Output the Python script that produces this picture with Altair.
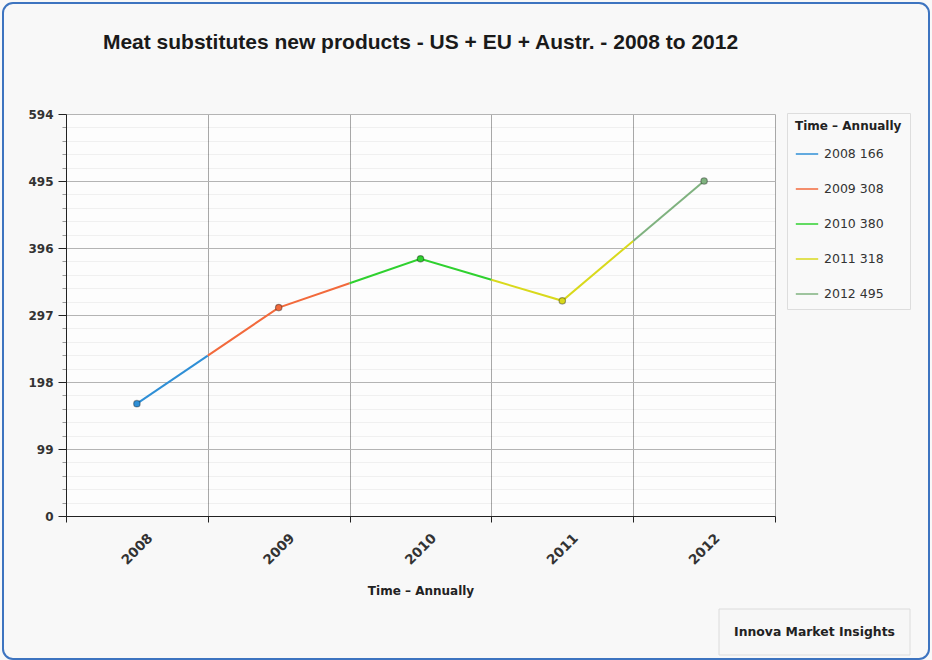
import altair as alt
import pandas as pd

# Annual counts of new meat-substitute products
years = ["2008", "2009", "2010", "2011", "2012"]
values = [166, 308, 380, 318, 495]
colors = ["#2f8fd6", "#f26a3c", "#2fd12f", "#d9d91c", "#7fb27f"]
y_ticks = [0, 99, 198, 297, 396, 495, 594]

keys = [f"{y} {v}" for y, v in zip(years, values)]
n = len(years)

# Each year owns the half-segments reaching towards its neighbours
seg_rows = []
for i in range(n):
    if i > 0:
        seg_rows.append({"key": keys[i], "pos": i - 0.5, "val": (values[i - 1] + values[i]) / 2})
    seg_rows.append({"key": keys[i], "pos": i, "val": values[i]})
    if i < n - 1:
        seg_rows.append({"key": keys[i], "pos": i + 0.5, "val": (values[i] + values[i + 1]) / 2})
segments = pd.DataFrame(seg_rows)
points = pd.DataFrame({"key": keys, "pos": list(range(n)), "val": values})

boundaries = [i - 0.5 for i in range(n + 1)]
minor_ticks = [y_ticks[j] + (y_ticks[j + 1] - y_ticks[j]) * k / 5
               for j in range(len(y_ticks) - 1) for k in range(1, 5)]
year_expr = "[" + ",".join(f"'{y}'" for y in years) + "][datum.value]"

FONT = "DejaVu Sans"
x_scale = alt.Scale(domain=[-0.5, n - 0.5], nice=False, zero=False)
y_scale = alt.Scale(domain=[0, y_ticks[-1]], nice=False)
color_scale = alt.Scale(domain=keys, range=colors)

legend = alt.Legend(
    title="Time – Annually", orient="none", legendX=721, legendY=-1,
    direction="vertical", fillColor="#f9f9f9", strokeColor="#dddddd",
    padding=8, titleFont=FONT, titleFontSize=12, titleFontWeight="bold",
    titleColor="#222222", titlePadding=9, labelFont=FONT, labelFontSize=12.5,
    labelColor="#333333", symbolType="stroke", symbolSize=500,
    symbolStrokeWidth=1.5, labelOffset=5, rowPadding=16,
)

lines = alt.Chart(segments).mark_line(strokeWidth=2).encode(
    x=alt.X("pos:Q", scale=x_scale, axis=alt.Axis(
        orient="bottom", values=boundaries, labels=False, title=None,
        grid=True, gridColor="#a8a8a8", gridWidth=1, tickColor="#222222",
        tickSize=6, domainColor="#222222", domainWidth=1)),
    y=alt.Y("val:Q", scale=y_scale, axis=alt.Axis(
        orient="left", values=minor_ticks, labels=False, title=None,
        grid=True, gridColor="rgba(0,0,0,0.05)", tickSize=4,
        tickColor="#999999", domain=False)),
    color=alt.Color("key:N", scale=color_scale, legend=legend),
    detail="key:N",
    order="pos:Q",
)

dots = alt.Chart(points).mark_circle(
    size=42, opacity=1, stroke="rgba(0,0,0,0.35)", strokeWidth=1.2
).encode(
    x=alt.X("pos:Q", scale=x_scale, axis=alt.Axis(
        orient="bottom", values=list(range(n)), labelExpr=year_expr,
        grid=False, ticks=False, domain=False, labelAngle=-45,
        labelAlign="center", labelBaseline="middle", labelPadding=33,
        labelFont=FONT, labelFontSize=13.5, labelFontWeight="bold",
        labelColor="#333333", title="Time – Annually", titleFont=FONT,
        titleFontSize=12, titleFontWeight="bold", titleColor="#222222",
        titlePadding=19)),
    y=alt.Y("val:Q", scale=y_scale, axis=alt.Axis(
        orient="left", values=y_ticks, title=None, grid=True,
        gridColor="#b4b4b4", tickSize=8, tickColor="#222222",
        domainColor="#222222", labelPadding=5, labelFont=FONT,
        labelFontSize=12, labelFontWeight="bold", labelColor="#333333")),
    color=alt.Color("key:N", scale=color_scale, legend=None),
)

one = pd.DataFrame({"a": [0]})

# Rounded frame around the whole chart
frame = alt.Chart(one).mark_rect(
    fill=None, stroke="#3d74c0", strokeWidth=2, cornerRadius=10
).encode(
    x=alt.value(-63), x2=alt.value(863), y=alt.value(-111), y2=alt.value(545)
)

# Source credit box
credit_box = alt.Chart(one).mark_rect(
    fill="#f7f7f7", stroke="#dcdcdc", strokeWidth=1
).encode(
    x=alt.value(653), x2=alt.value(844), y=alt.value(495), y2=alt.value(541)
)
credit_text = alt.Chart(one).mark_text(
    text="Innova Market Insights", font=FONT, fontSize=12.4, fontWeight="bold",
    color="#222222", align="center", baseline="middle"
).encode(x=alt.value(748.5), y=alt.value(518))

chart = alt.layer(frame, credit_box, credit_text, lines, dots).resolve_axis(
    x="independent", y="independent"
).properties(
    width=709, height=402,
    autosize=alt.AutoSizeParams(type="none"),
    padding={"left": 66, "top": 114, "right": 157, "bottom": 144},
    background="#f8f8f8",
    title=alt.TitleParams(
        "Meat substitutes new products - US + EU + Austr. - 2008 to 2012",
        font="Liberation Sans", fontSize=21, fontWeight="bold",
        color="#1a1a1a", anchor="middle", offset=-51),
).configure_view(fill="#fdfdfd", stroke=None)

chart.save("out.html", embed_options={"renderer": "svg", "actions": False})
